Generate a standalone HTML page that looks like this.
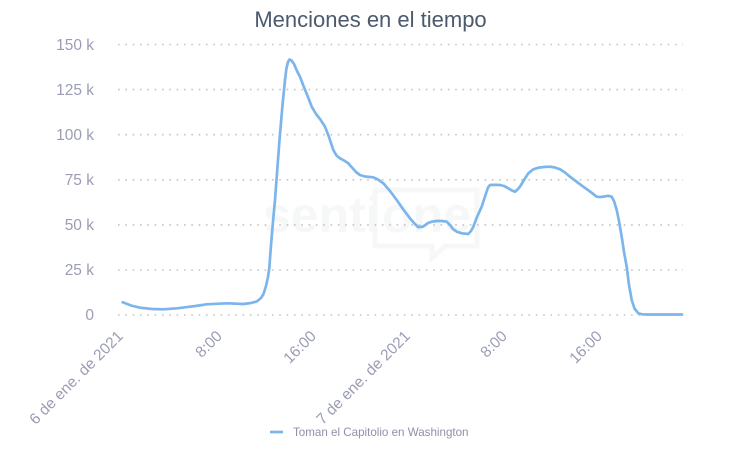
<!DOCTYPE html>
<html>
<head>
<meta charset="utf-8">
<style>
html,body{margin:0;padding:0;background:#fff;}
svg{display:block;}
</style>
</head>
<body>
<svg width="742" height="450" viewBox="0 0 742 450" xmlns="http://www.w3.org/2000/svg">
<rect width="742" height="450" fill="#ffffff"/>
<!-- watermark -->
<g>
<text x="263" y="232" font-family="Liberation Sans, sans-serif" font-size="50" font-weight="bold" fill="#f6f7f7">senti</text>
<text x="382" y="232" font-family="Liberation Sans, sans-serif" font-size="50" font-weight="bold" fill="#f6f7f7">one</text>
</g>
<path d="M375,190 L477,190 L477,246 L445,246 L432,258 L432,246 L375,246 Z" fill="none" stroke="#f6f7f7" stroke-width="5"/>

<!-- title -->
<text x="370.5" y="27" text-anchor="middle" font-family="Liberation Sans, sans-serif" font-size="22" fill="#4b5a6d">Menciones en el tiempo</text>

<!-- gridlines -->
<g stroke="#c4c4c4" stroke-width="1.6" stroke-dasharray="1.6 5.73">
<line x1="118" y1="44.5" x2="683" y2="44.5"/>
<line x1="118" y1="89.6" x2="683" y2="89.6"/>
<line x1="118" y1="134.7" x2="683" y2="134.7"/>
<line x1="118" y1="179.8" x2="683" y2="179.8"/>
<line x1="118" y1="224.9" x2="683" y2="224.9"/>
<line x1="118" y1="270" x2="683" y2="270"/>
<line x1="118" y1="315" x2="683" y2="315"/>
</g>

<!-- y labels -->
<g font-family="Liberation Sans, sans-serif" font-size="15.5" fill="#9a9db4" text-anchor="end">
<text x="94" y="50">150 k</text>
<text x="94" y="95">125 k</text>
<text x="94" y="140">100 k</text>
<text x="94" y="185">75 k</text>
<text x="94" y="230">50 k</text>
<text x="94" y="275">25 k</text>
<text x="94" y="320">0</text>
</g>

<!-- x labels -->
<g font-family="Liberation Sans, sans-serif" font-size="15.5" fill="#9a9db4" text-anchor="end">
<text transform="translate(124,337) rotate(-45)">6 de ene. de 2021</text>
<text transform="translate(223,337) rotate(-45)">8:00</text>
<text transform="translate(317,337) rotate(-45)">16:00</text>
<text transform="translate(411,337) rotate(-45)">7 de ene. de 2021</text>
<text transform="translate(508,337) rotate(-45)">8:00</text>
<text transform="translate(603,337) rotate(-45)">16:00</text>
</g>

<!-- series -->
<polyline fill="none" stroke="#7cb5ec" stroke-width="2.7" stroke-linejoin="round" stroke-linecap="round" points="
122.7,302.3 131,305.5 140,307.7 152,309 163.3,309.3 177,308.3 190,306.7 199,305.5 206.7,304.3 216,303.8 226.7,303.3 235,303.6 243.3,304 251,303 256.7,301.5 261,298 263.5,294 266,286 268,277 269.3,268 271,245 272.7,225 275,200 279.5,140 282.5,105 285,80 286.5,68 288,62 289.5,59.5 291.5,60.5 294,64 297,71 300,76.7 303.5,86 308,97 311.7,106.7 316,114 320,119 325,126.7 329,137 333.3,150 336.5,155.5 340,158.3 344,160.5 348.3,163.3 352,167.5 356,172 360,175 365,176.5 373.3,177.3 378,179.5 383.3,183.3 390,191 396.7,200 403,209 410,218.3 414,223 418.3,227.3 423.3,226.5 428,223 431.7,221.7 436.7,221 442,221 446.7,221.7 450,225 453.3,229.3 457,231.8 461.7,233.3 468.3,234 471,231 473.3,226.7 477,217 481.7,206.7 485.5,195 488,187.5 490,185 495,184.8 500,185 504,186 508.3,188.3 512,190.5 515,191.7 517.5,189.5 520,186.7 524,180 528.3,173.3 533,169.5 538.3,167.7 544,167 550,166.7 555,167.5 560,169.3 565,172.5 570,176.7 577,182 583.3,186.7 590,191.5 596.7,196.7 600,197 603.3,196.7 608,195.8 611.7,196.7 614,201 616.7,210 619,221 621.7,236.7 624,252 626.7,266.7 629,285 631.7,300 634.5,308.5 638.3,313.3 642,314.3 646.7,314.5 682,314.5"/>

<!-- legend -->
<line x1="270" y1="432" x2="283" y2="432" stroke="#7cb5ec" stroke-width="2.7"/>
<text x="293" y="436" font-family="Liberation Sans, sans-serif" font-size="11.6" fill="#8e91a8">Toman el Capitolio en Washington</text>
</svg>
</body>
</html>
